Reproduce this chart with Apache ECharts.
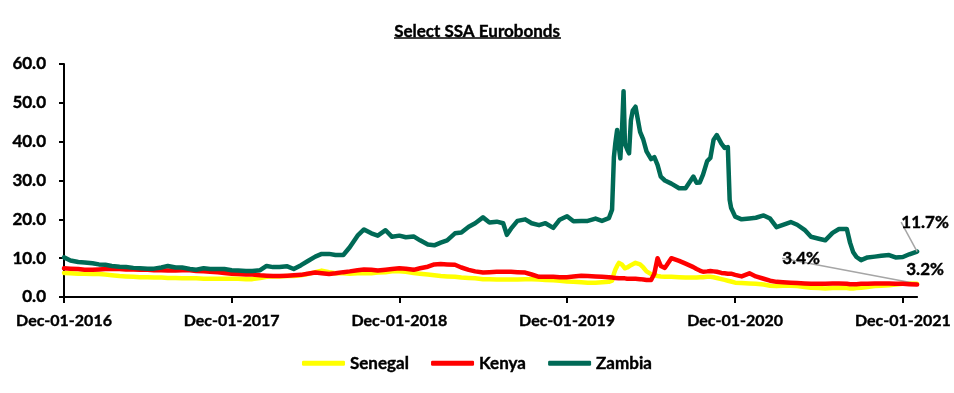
<!DOCTYPE html>
<html>
<head>
<meta charset="utf-8">
<script src="https://cdn.jsdelivr.net/npm/echarts@6/dist/echarts.min.js"></script>
<style>
html,body{margin:0;padding:0;background:#fff;}
#chart{width:954px;height:393px;}
</style>
</head>
<body>
<div id="chart"></div>
<script>
const dates = [
'2016-12-01','2016-12-15','2017-01-01','2017-01-15','2017-02-01','2017-02-15','2017-03-01','2017-03-15','2017-04-01','2017-04-15',
'2017-05-01','2017-05-15','2017-06-01','2017-06-15','2017-07-01','2017-07-15','2017-08-01','2017-08-15','2017-09-01','2017-09-15',
'2017-10-01','2017-10-15','2017-11-01','2017-11-15','2017-12-01','2017-12-15','2018-01-01','2018-01-15','2018-02-01','2018-02-15',
'2018-03-01','2018-03-15','2018-04-01','2018-04-15','2018-05-01','2018-05-15','2018-06-01','2018-06-15','2018-07-01','2018-07-15',
'2018-08-01','2018-08-15','2018-09-01','2018-09-15','2018-10-01','2018-10-15','2018-11-01','2018-11-15','2018-12-01','2018-12-15',
'2019-01-01','2019-01-15','2019-02-01','2019-02-15','2019-03-01','2019-03-15','2019-04-01','2019-04-15','2019-05-01','2019-05-15',
'2019-06-01','2019-06-15','2019-07-01','2019-07-15','2019-07-23','2019-08-01','2019-08-15','2019-09-01','2019-09-15','2019-10-01',
'2019-10-15','2019-11-01','2019-11-15','2019-12-01','2019-12-15','2020-01-01','2020-01-15','2020-02-01','2020-02-15','2020-03-01',
'2020-03-08','2020-03-12','2020-03-15','2020-03-19','2020-03-23','2020-03-26','2020-03-30','2020-04-02','2020-04-05','2020-04-10',
'2020-04-14','2020-04-18','2020-04-22','2020-04-28','2020-05-01','2020-05-08','2020-05-15','2020-05-22','2020-06-01','2020-06-08',
'2020-06-15','2020-06-22','2020-07-01','2020-07-15','2020-07-19','2020-08-01','2020-08-15','2020-09-01','2020-09-08','2020-09-15',
'2020-09-22','2020-10-01','2020-10-08','2020-10-15','2020-10-22','2020-11-01','2020-11-08','2020-11-15','2020-11-19','2020-11-22',
'2020-12-01','2020-12-15','2021-01-01','2021-01-15','2021-02-01','2021-02-15','2021-03-01','2021-03-15','2021-04-01','2021-04-15',
'2021-05-01','2021-05-15','2021-06-01','2021-06-15','2021-07-01','2021-07-15','2021-08-01','2021-08-08','2021-08-15','2021-08-22',
'2021-09-01','2021-09-15','2021-10-01','2021-10-15','2021-11-01','2021-11-15','2021-12-01','2021-12-15','2022-01-01'
];

const zambia = [
10.2,9.4,9.0,8.9,8.7,8.4,8.3,8.0,7.8,7.7,
7.5,7.4,7.3,7.3,7.6,8.0,7.6,7.6,7.2,7.0,
7.4,7.2,7.2,7.2,6.9,6.8,6.7,6.7,6.9,8.0,
7.7,7.7,7.9,7.2,8.2,9.2,10.4,11.1,11.1,10.8,
10.8,12.8,15.8,17.4,16.4,15.8,17.2,15.5,15.8,15.4,
15.6,14.6,13.5,13.3,14.0,14.6,16.4,16.6,18.1,19.0,
20.5,19.2,19.4,19.0,16.0,17.6,19.6,20.0,19.0,18.5,
19.0,17.8,19.9,20.8,19.5,19.6,19.6,20.2,19.6,20.3,
22.5,36.0,39.5,43.0,38.5,35.7,44.0,53.0,39.5,38.0,
37.0,45.5,48.0,49.0,48.5,42.5,40.5,37.5,35.5,36.0,
34.0,31.0,30.0,29.2,29.0,28.0,28.0,31.0,29.4,29.5,
31.5,35.0,35.8,40.5,41.7,39.5,38.4,38.6,25.0,23.0,
20.7,20.0,20.2,20.4,21.0,20.2,18.0,18.6,19.3,18.6,
17.3,15.5,15.0,14.6,16.5,17.5,17.5,14.0,11.5,10.3,
9.5,10.2,10.4,10.6,10.8,10.2,10.3,11.0,11.7
];

const kenya = [
7.4,7.3,7.2,7.0,7.0,7.1,7.2,7.3,7.2,7.1,
7.1,7.0,7.0,6.9,6.9,6.8,6.8,6.9,6.9,6.7,
6.6,6.5,6.4,6.2,6.0,5.9,5.8,5.8,5.6,5.5,
5.4,5.4,5.5,5.6,5.7,6.0,6.3,6.1,5.9,6.1,
6.4,6.6,6.9,7.1,7.0,6.8,7.0,7.2,7.4,7.3,
7.0,7.4,7.8,8.4,8.5,8.4,8.3,7.6,7.0,6.6,
6.3,6.4,6.5,6.5,6.5,6.5,6.4,6.3,5.8,5.2,
5.2,5.2,5.1,5.1,5.3,5.5,5.4,5.3,5.2,5.1,
5.0,5.0,4.9,4.9,4.8,4.8,4.8,4.8,4.8,4.7,
4.7,4.7,4.7,4.7,4.7,4.6,4.5,4.4,4.4,6.0,
10.0,8.0,7.5,10.0,10.5,9.3,8.6,7.7,7.2,6.8,
6.5,6.6,6.7,6.6,6.5,6.2,6.1,6.0,6.0,6.0,
5.7,5.3,6.1,5.3,4.7,4.2,3.9,3.8,3.7,3.6,
3.5,3.4,3.4,3.4,3.5,3.5,3.4,3.3,3.3,3.3,
3.4,3.4,3.5,3.5,3.5,3.4,3.4,3.3,3.2
];

const senegal = [
6.2,6.1,6.0,6.0,5.9,5.9,5.8,5.6,5.4,5.3,
5.2,5.1,5.1,5.0,5.0,4.9,4.9,4.8,4.8,4.8,
4.7,4.7,4.7,4.7,4.7,4.7,4.6,4.6,4.9,5.2,
5.3,5.3,5.4,5.4,5.6,5.9,6.4,6.8,6.4,6.1,
6.1,6.0,6.1,6.1,6.1,6.3,6.4,6.6,6.6,6.5,
6.2,6.0,5.8,5.6,5.4,5.3,5.2,5.0,4.9,4.8,
4.6,4.6,4.5,4.5,4.5,4.5,4.5,4.6,4.6,4.5,
4.4,4.3,4.2,4.0,3.9,3.8,3.7,3.7,3.8,3.9,
4.2,6.0,7.0,8.0,8.8,9.0,8.3,7.8,7.4,7.6,
7.9,8.2,8.5,8.8,8.8,8.4,7.6,6.6,5.9,5.6,
5.4,5.3,5.2,5.2,5.2,5.1,5.0,5.0,5.0,5.1,
5.1,5.2,5.2,5.1,4.9,4.6,4.4,4.2,4.1,4.0,
3.7,3.6,3.5,3.4,3.2,2.9,2.8,2.9,2.9,2.8,
2.6,2.4,2.3,2.2,2.3,2.4,2.3,2.2,2.2,2.3,
2.4,2.6,2.8,2.9,3.0,3.2,3.4,3.5,3.4
];

const seriesNames = ['Senegal','Kenya','Zambia'];
const seriesColors = ['#FFFF00','#FF0000','#006A56'];
const endLabels = ['3.4%','3.2%','11.7%'];
const tickDates = ['2016-12-01','2017-12-01','2018-12-01','2019-12-01','2020-12-01','2021-12-01'];
const yTicks = [0,10,20,30,40,50,60];
const monthNames = ['Jan','Feb','Mar','Apr','May','Jun','Jul','Aug','Sep','Oct','Nov','Dec'];

const FONT = 'Lato';
function parseD(s){ const p = s.split('-'); return Date.UTC(+p[0], +p[1]-1, +p[2]); }
const tickTs = tickDates.map(parseD);

const labelShift = {
  'Senegal': {dx:-116, dy:-13},
  'Kenya': {dx:8, dy:-3},
  'Zambia': {dx:8, dy:-17}
};

const heavy = {textBorderColor:'#000', textBorderWidth:0.4};
const labelFont = Object.assign({color:'#000', fontFamily:FONT, fontWeight:700, fontSize:17}, heavy);

function buildData(vals, idx){
  return vals.map((v,i)=>{
    const item = {value:[parseD(dates[i]), v]};
    if (i === vals.length-1){
      item.label = Object.assign({show:true, position:'top', distance:4, formatter:endLabels[idx]}, labelFont);
    }
    return item;
  });
}

const allVals = [senegal, kenya, zambia];
const series = seriesNames.map((n,idx)=>({
  name:n,
  type:'line',
  data:buildData(allVals[idx], idx),
  showSymbol:true,
  showAllSymbol:true,
  symbol:'circle',
  symbolSize:0,
  smooth:false,
  lineStyle:{width:4.5, color:seriesColors[idx], cap:'round', join:'round'},
  itemStyle:{color:seriesColors[idx]},
  label:Object.assign({show:false, position:'top', distance:4}, labelFont),
  labelLine:{show: idx!==1, length2:0, smooth:false, lineStyle:{color:'#A6A6A6', width:1.5}},
  labelLayout: labelShift[n],
  emphasis:{disabled:true},
  z: 2+idx
}));

const chart = echarts.init(document.getElementById('chart'), null, {renderer:'canvas'});
chart.setOption({
  animation:false,
  backgroundColor:'#fff',
  title:{
    text:'Select SSA Eurobonds',
    left:'center', top:18,
    textStyle:Object.assign({fontFamily:FONT, fontWeight:'bold', fontSize:17, color:'#000'}, heavy)
  },
  graphic:[{
    type:'line', shape:{x1:394, y1:38, x2:561, y2:38},
    style:{stroke:'#000', lineWidth:1.5}
  }],
  legend:{
    data:seriesNames,
    bottom:16, left:'center',
    icon:'roundRect', itemWidth:43, itemHeight:5, itemGap:22,
    textStyle:Object.assign({fontFamily:FONT, fontWeight:'bold', fontSize:17, color:'#000'}, heavy)
  },
  grid:{left:64, right:22, top:64, bottom:96, containLabel:false},
  xAxis:{
    type:'value',
    min:parseD('2016-12-01'), max:parseD('2022-01-01'),
    axisLine:{show:true, lineStyle:{color:'#000', width:2}},
    axisTick:{show:true, customValues:tickTs, length:6, lineStyle:{color:'#000', width:2}},
    axisLabel:Object.assign({
      customValues:tickTs, margin:16, showMinLabel:true, showMaxLabel:true, hideOverlap:false,
      alignMinLabel:'center', alignMaxLabel:'center',
      fontFamily:FONT, fontWeight:'bold', fontSize:16, color:'#000',
      formatter:function(v){ const d=new Date(v); return monthNames[d.getUTCMonth()]+'-'+String(d.getUTCDate()).padStart(2,'0')+'-'+d.getUTCFullYear(); }
    }, heavy),
    splitLine:{show:false}
  },
  yAxis:{
    type:'value', min:yTicks[0], max:yTicks[yTicks.length-1], interval:10,
    axisLine:{show:true, lineStyle:{color:'#000', width:2}},
    axisTick:{show:true, length:5, lineStyle:{color:'#000', width:2}},
    axisLabel:Object.assign({margin:18, fontFamily:FONT, fontWeight:'bold', fontSize:17, color:'#000', formatter:v=>v.toFixed(1)}, heavy),
    splitLine:{show:false}
  },
  series:series
});
</script>
</body>
</html>
